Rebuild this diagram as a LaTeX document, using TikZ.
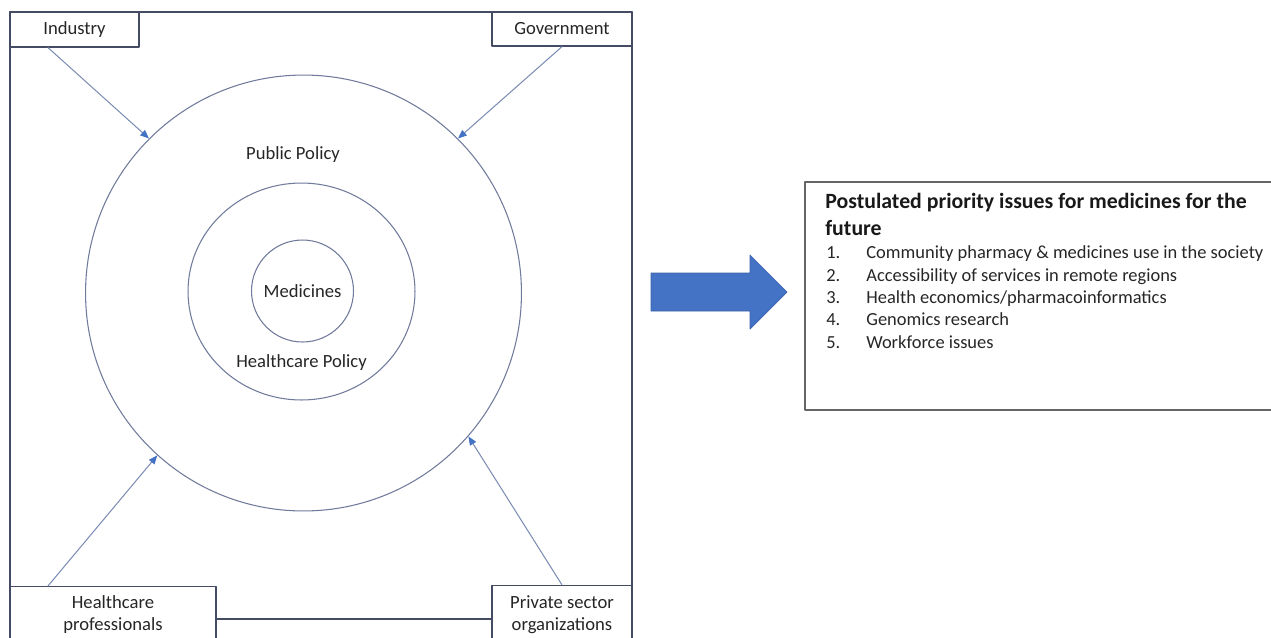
\documentclass[tikz,border=0pt]{standalone}
\usepackage{fontspec}
\setmainfont{Carlito}
\usetikzlibrary{arrows.meta,shapes.geometric}

\definecolor{frameline}{RGB}{68,76,100}
\definecolor{ringline}{RGB}{112,122,155}
\definecolor{feedline}{RGB}{125,142,180}
\definecolor{officeblue}{RGB}{68,114,196}
\definecolor{textgray}{RGB}{38,38,38}

\newcommand\lbl{\fontsize{10.6}{12.8}\selectfont}
\newcommand\ttl{\fontsize{12.4}{15.3}\selectfont\bfseries}
\newcommand\lst{\fontsize{10.5}{12.6}\selectfont}

\tikzset{
  frame/.style={draw=frameline, line width=0.7pt},
  labelbox/.style={frame, fill=white, align=center, inner sep=0pt, font=\lbl, text=textgray},
  ring/.style={draw=ringline, line width=0.6pt, inner sep=0pt},
  feed/.style={draw=feedline, line width=0.6pt, -{Triangle[length=5pt,width=4pt,color=officeblue]}}
}

\begin{document}
\begin{tikzpicture}[x=0.02cm, y=-0.02cm, line cap=round, line join=round]
  \useasboundingbox (0,0) rectangle (1271,637);

  % stakeholder frame
  \draw[frame] (10,12) rectangle (632,619);

  % policy rings
  \node[ring, circle, minimum size=8.72cm] (outer) at (303.5,293) {};
  \node[ring, ellipse, minimum width=4.54cm, minimum height=4.34cm] (middle) at (301.5,291.5) {};
  \node[ring, circle, minimum size=2.04cm, font=\lbl, text=textgray] (med) at (302.5,291) {Medicines};
  \node[font=\lbl, text=textgray] (pub) at (293,155) {Public Policy};
  \node[font=\lbl, text=textgray] (hpol) at (301.5,362.5) {Healthcare Policy};

  % stakeholders
  \node[labelbox, minimum width=2.58cm, minimum height=0.7cm] (ind) at (74.5,29.5) {Industry};
  \node[labelbox, minimum width=2.8cm, minimum height=0.68cm] (gov) at (562,29) {Government};
  \node[labelbox, minimum width=4.12cm, minimum height=1.12cm] (hcp) at (113,614.5) {Healthcare\\professionals};
  \node[labelbox, minimum width=2.8cm, minimum height=1.16cm] (pso) at (562,614.5) {Private sector\\organizations};

  \draw[feed] ([xshift=-0.53cm]ind.south) -- (outer.135);
  \draw[feed] (gov.south) -- (outer.45);
  \draw[feed] ([xshift=-1.3cm]hcp.north) -- (outer.228);
  \draw[feed] (pso.north) -- (outer.319);

  % block arrow
  \filldraw[fill=officeblue, draw=officeblue!85!black, line width=0.4pt]
    (651,273) -- (750,273) -- (750,255) -- (787,292) -- (750,329) -- (750,311) -- (651,311) -- cycle;

  % priorities
  \draw[draw=black!60, line width=0.6pt] (805,182) rectangle (1290,410);
  \node[anchor=north west, align=left, font=\ttl, inner sep=0pt, text=black!90] (title) at (825,193)
    {Postulated priority issues for medicines for the\\future};
  \foreach \txt [count=\k] in {Community pharmacy \& medicines use in the society,
      Accessibility of services in remote regions,
      Health economics/pharmacoinformatics,
      Genomics research,
      Workforce issues} {
    \node[anchor=base west, font=\lst, inner sep=0pt, text=textgray] (num\k) at (826,236.5+22.3*\k) {\k.};
    \node[anchor=base west, font=\lst, inner sep=0pt, text=textgray] (item\k) at (866,236.5+22.3*\k) {\txt};
  }
\end{tikzpicture}
\end{document}
